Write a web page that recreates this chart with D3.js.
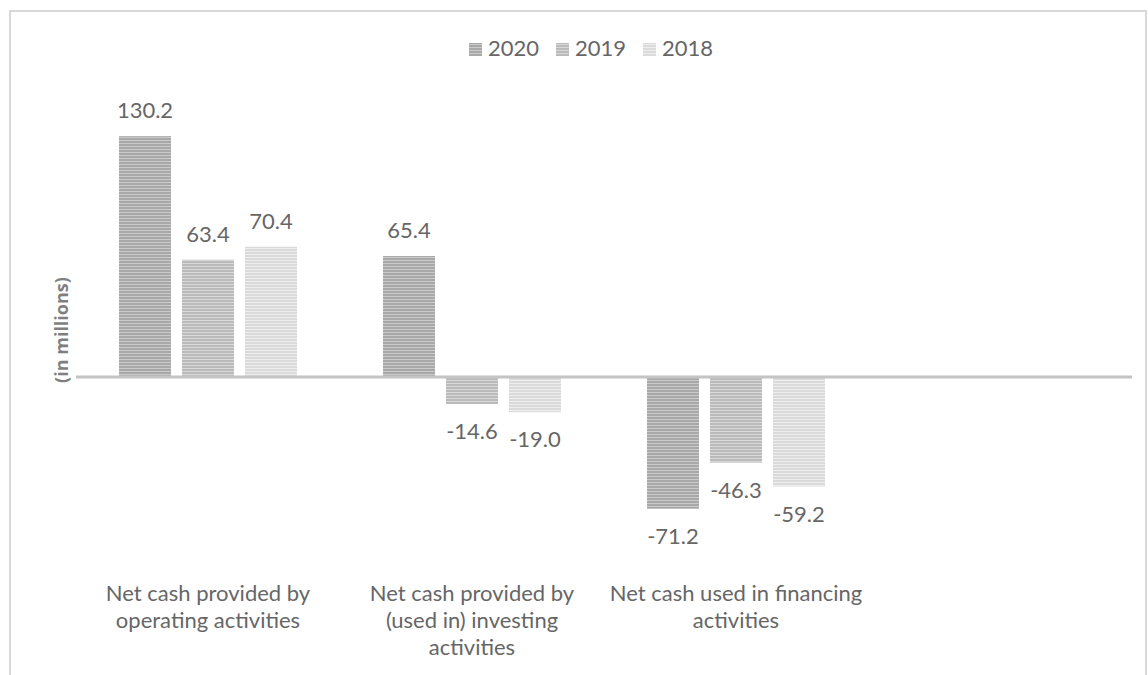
<!DOCTYPE html>
<html>
<head>
<meta charset="utf-8">
<script src="https://cdn.jsdelivr.net/npm/d3@7"></script>
<style>
  body { margin: 0; background: #fff; }
  svg { display: block; font-family: Lato, "Open Sans", sans-serif; }
</style>
</head>
<body>
<svg id="chart" width="1148" height="675"></svg>
<script>
// data
const categories = [
  ['Net cash provided by', 'operating activities'],
  ['Net cash provided by', '(used in) investing', 'activities'],
  ['Net cash used in financing', 'activities'],
  ['']
];
const series = ['2020', '2019', '2018'];
const values = {
  '2020': [130.2, 65.4, -71.2],
  '2019': [63.4, -14.6, -46.3],
  '2018': [70.4, -19.0, -59.2]
};
const yDomain = [-100, 140];

// stripe colours per series (base, light line)
const stripes = {
  '2020': ['#a8a8a8', '#cacaca'],
  '2019': ['#bababa', '#d8d8d8'],
  '2018': ['#dadada', '#eeeeee']
};

const svg = d3.select('#chart');
const textColor = '#666666';
const fontSize = 22;

// chart border (bottom edge falls outside the picture)
svg.append('rect')
  .attr('x', 10).attr('y', 11)
  .attr('width', 1136).attr('height', 700)
  .attr('fill', 'none')
  .attr('stroke', '#d9d9d9')
  .attr('stroke-width', 2);

// striped fills
const defs = svg.append('defs');
series.forEach((s, i) => {
  let p = defs.append('pattern')
    .attr('id', 'stripe' + i)
    .attr('patternUnits', 'userSpaceOnUse')
    .attr('width', 6).attr('height', 3);
  p.append('rect').attr('width', 6).attr('height', 3).attr('fill', stripes[s][0]);
  p.append('rect').attr('y', 2).attr('width', 6).attr('height', 1).attr('fill', stripes[s][1]);
});

const catKeys = categories.map((c, i) => 'c' + i);

const x0 = d3.scaleBand()
  .domain(catKeys)
  .range([76, 1132])
  .paddingInner(0.326)
  .paddingOuter(0.163);

const x1 = d3.scaleBand()
  .domain(series)
  .range([0, x0.bandwidth()])
  .paddingInner(0.175);

const y = d3.scaleLinear()
  .domain(yDomain)
  .range([562, 118]);

// bars
const bars = svg.append('g');
series.forEach((s, si) => {
  values[s].forEach((v, ci) => {
    let bx = x0(catKeys[ci]) + x1(s);
    bars.append('rect')
      .attr('x', bx)
      .attr('y', y(Math.max(0, v)))
      .attr('width', x1.bandwidth())
      .attr('height', Math.abs(y(v) - y(0)))
      .attr('fill', 'url(#stripe' + si + ')');
    bars.append('text')
      .attr('x', bx + x1.bandwidth() / 2)
      .attr('y', v >= 0 ? y(v) - 18 : y(v) + 35)
      .attr('text-anchor', 'middle')
      .attr('font-size', fontSize)
      .attr('fill', textColor)
      .text(v.toFixed(1));
  });
});

// zero line
svg.append('line')
  .attr('x1', 76).attr('x2', 1132)
  .attr('y1', y(0)).attr('y2', y(0))
  .attr('stroke', '#c4c4c4')
  .attr('stroke-width', 3);

// category labels
categories.forEach((lines, i) => {
  let t = svg.append('text')
    .attr('text-anchor', 'middle')
    .attr('font-size', fontSize)
    .attr('fill', textColor);
  lines.forEach((l, j) => {
    t.append('tspan')
      .attr('x', x0(catKeys[i]) + x0.bandwidth() / 2)
      .attr('y', 601 + j * 27)
      .text(l);
  });
});

// y axis title
svg.append('text')
  .attr('transform', 'translate(68,330) rotate(-90)')
  .attr('text-anchor', 'middle')
  .attr('font-family', '"Open Sans", sans-serif')
  .attr('font-size', 18)
  .attr('font-weight', 'bold')
  .attr('fill', '#7f7f7f')
  .text('(in millions)');

// legend
const legend = svg.append('g');
series.forEach((s, i) => {
  let lx = 469 + i * 87;
  legend.append('rect')
    .attr('x', lx).attr('y', 43)
    .attr('width', 13).attr('height', 13)
    .attr('fill', 'url(#stripe' + i + ')');
  legend.append('text')
    .attr('x', lx + 19).attr('y', 56)
    .attr('font-size', fontSize)
    .attr('fill', textColor)
    .text(s);
});
</script>
</body>
</html>
